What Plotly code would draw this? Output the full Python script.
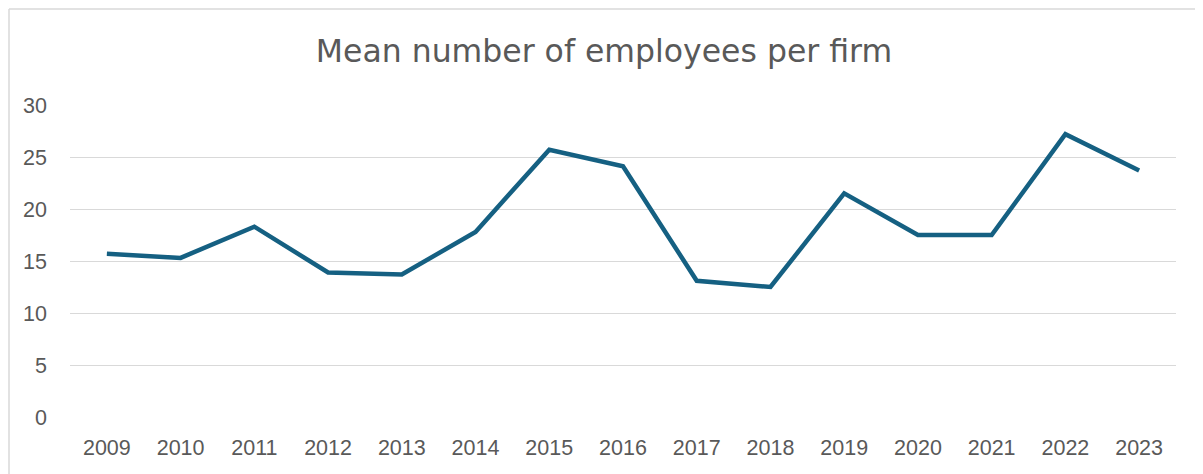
import plotly.graph_objects as go

years = ["2009", "2010", "2011", "2012", "2013", "2014", "2015", "2016",
         "2017", "2018", "2019", "2020", "2021", "2022", "2023"]
mean_employees = [15.7, 15.3, 18.3, 13.9, 13.7, 17.8, 25.7, 24.1,
                  13.1, 12.5, 21.5, 17.5, 17.5, 27.2, 23.7]
y_ticks = [0, 5, 10, 15, 20, 25, 30]

title_text = "Mean number of employees per firm"

fig = go.Figure()
fig.add_trace(go.Scatter(
    x=years, y=mean_employees, mode="lines",
    line=dict(color="#156082", width=4.5),
    showlegend=False, hoverinfo="x+y",
))

text_color = "#595959"
# plot area on screen: x 70..1176, y 105..416.7 (page has 8px body margin)
edge_x = (9 - 70) / 1106
edge_y = (416.7 - 9) / 311.7
fig.update_layout(
    width=1203, height=474,
    margin=dict(l=62, r=35, t=97, b=65),
    paper_bgcolor="white", plot_bgcolor="white",
    title=dict(text=title_text, x=(604 - 8) / 1203, xanchor="center",
               xref="container",
               y=1 - 43 / 474, yanchor="middle", yref="container",
               font=dict(family="DejaVu Sans", size=31.5, color=text_color)),
    font=dict(family="Liberation Sans, Arial", color=text_color),
    xaxis=dict(type="category", range=[-0.5, 14.5], showgrid=False,
               showline=False, zeroline=False, ticks="",
               tickfont=dict(size=21.5, color=text_color),
               ticklabelstandoff=15),
    yaxis=dict(range=[0, 30], tickvals=y_ticks, showgrid=True,
               gridcolor="#D9D9D9", gridwidth=1, zeroline=False,
               showline=False, ticks="",
               tickfont=dict(size=21.5, color=text_color),
               ticklabelstandoff=22),
    shapes=[
        dict(type="line", xref="paper", yref="paper",
             x0=edge_x, x1=(1215 - 70) / 1106,
             y0=edge_y, y1=edge_y,
             line=dict(color="#D9D9D9", width=1.5)),
        dict(type="line", xref="paper", yref="paper",
             x0=edge_x, x1=edge_x,
             y0=edge_y, y1=(416.7 - 490) / 311.7,
             line=dict(color="#D9D9D9", width=1.5)),
    ],
)

fig.write_html("out.html")
